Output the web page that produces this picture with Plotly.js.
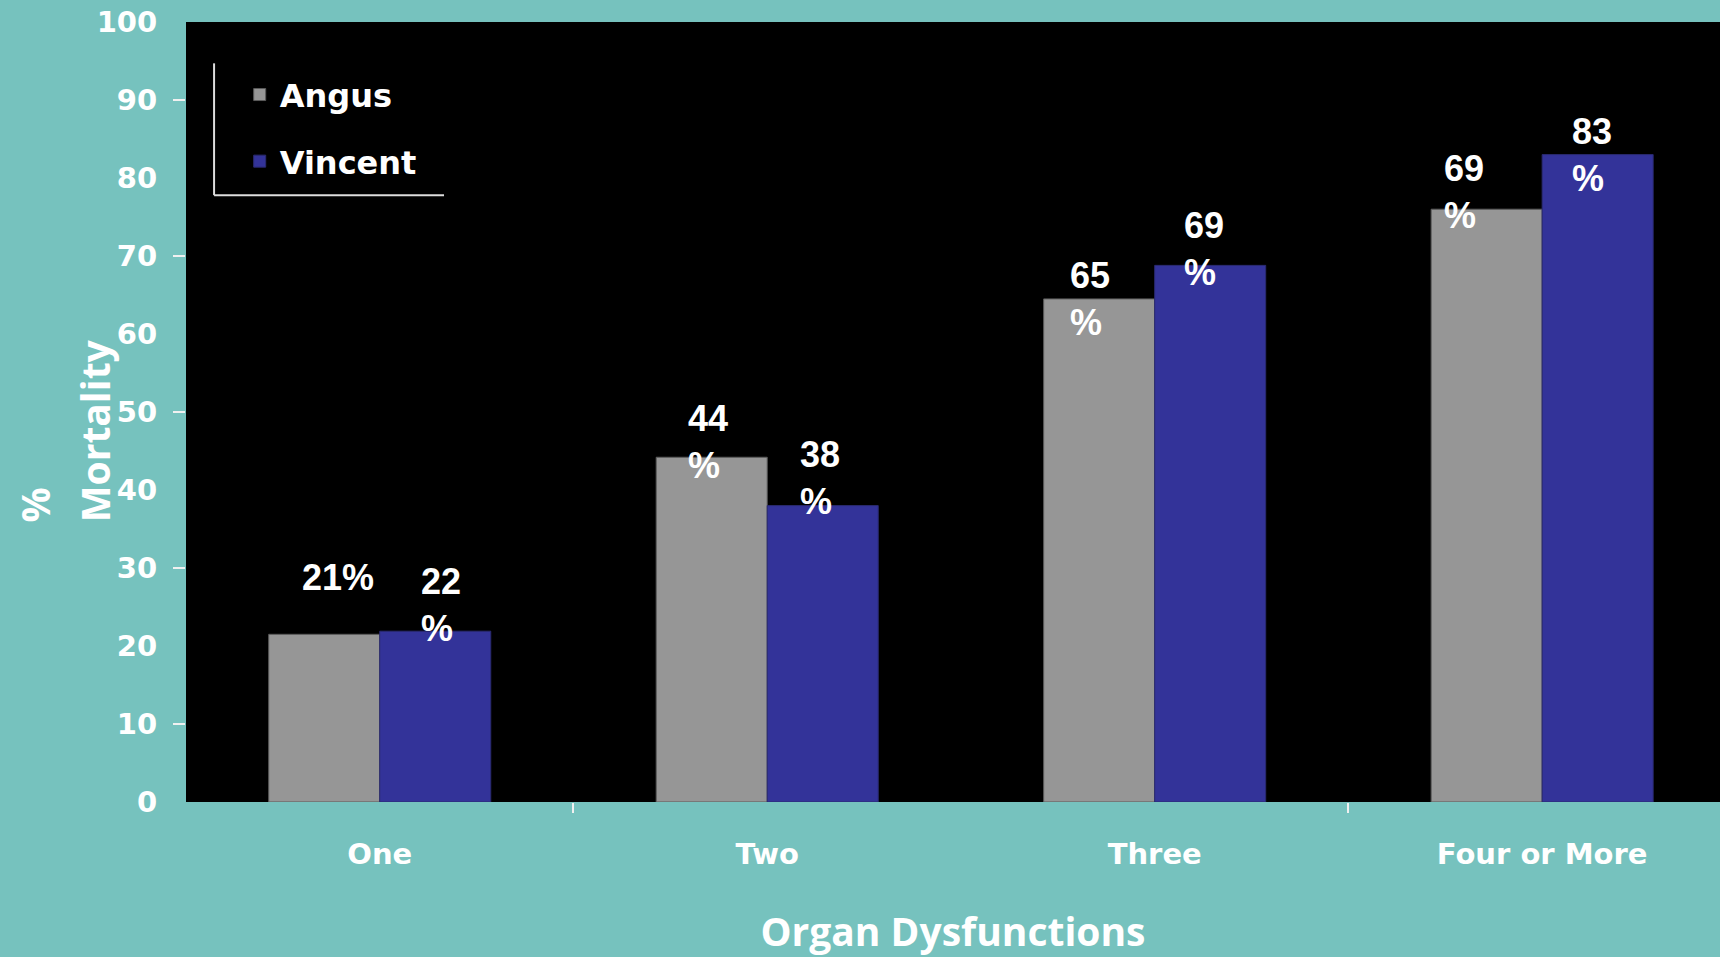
<!DOCTYPE html>
<html>
<head>
<meta charset="utf-8">
<script src="https://cdn.plot.ly/plotly-3.0.1.min.js"></script>
<style>html,body{margin:0;padding:0;background:#76c2be;}</style>
</head>
<body>
<div id="chart" style="width:1720px;height:957px;"></div>
<script>
// ---- data ----
const categories = ["One", "Two", "Three", "Four or More"];
const angusValues = [21.5, 44.2, 64.5, 76.0];
const vincentValues = [21.9, 38.0, 68.8, 83.0];
const angusLabels = ["21%", "44\n%", "65\n%", "69\n%"];
const vincentLabels = ["22\n%", "38\n%", "69\n%", "83\n%"];
const yTickValues = [0, 10, 20, 30, 40, 50, 60, 70, 80, 90, 100];
const yMarkedTicks = [10, 30, 50, 70, 90];
const xMarkedTicks = [0.5, 2.5];

// ---- label placement (px offsets; style only) ----
const angusLabelDX = [-80, -81, -87, -100];
const angusLabelDY = [57, 15, 0, 17];
const vincentLabelDX = [39, 31, 27, 28];
const vincentLabelDY = [26, 28, 16, 0];

const teal = "#76c2be";
const labelFont = {family: "Liberation Sans, Arial, sans-serif", size: 36, color: "white", weight: 700};
const tickFont = {family: "DejaVu Sans, sans-serif", size: 29, color: "white", weight: 700};
const titleFont = {family: "Open Sans, sans-serif", size: 39, color: "white", weight: 700};

const traces = [
  {type: "bar", name: "Angus", x: categories, y: angusValues, legendgroup: "a",
   marker: {color: "#969696", line: {color: "#5a5a5a", width: 1}}, hoverinfo: "skip"},
  {type: "bar", name: "Vincent", x: categories, y: vincentValues, legendgroup: "v",
   marker: {color: "#333399", line: {color: "#2a2a70", width: 1}}, hoverinfo: "skip"},
  {type: "scatter", x: [], y: [], xaxis: "x2", yaxis: "y2", showlegend: false, hoverinfo: "skip"}
];

const annotations = [];
categories.forEach((c, i) => {
  annotations.push({x: c, y: angusValues[i], xref: "x", yref: "y", text: angusLabels[i].replace("\n", "<br>"),
    showarrow: false, xanchor: "left", yanchor: "middle", align: "left",
    xshift: angusLabelDX[i], yshift: angusLabelDY[i], font: labelFont});
  annotations.push({x: c, y: vincentValues[i], xref: "x", yref: "y", text: vincentLabels[i].replace("\n", "<br>"),
    showarrow: false, xanchor: "left", yanchor: "middle", align: "left",
    xshift: vincentLabelDX[i], yshift: vincentLabelDY[i], font: labelFont});
});
annotations.push({xref: "paper", yref: "paper", x: -0.0987, y: 0.356, xanchor: "center", yanchor: "bottom",
  text: "%", textangle: -90, showarrow: false, font: titleFont});
annotations.push({xref: "paper", yref: "paper", x: -0.0597, y: 0.356, xanchor: "center", yanchor: "bottom",
  text: "Mortality", textangle: -90, showarrow: false, font: titleFont});

const xRange = [-0.5, 3.459];

const layout = {
  width: 1720, height: 957,
  paper_bgcolor: teal, plot_bgcolor: "black",
  margin: {l: 186, r: 0, t: 22, b: 155, pad: 0},
  barmode: "group", bargap: 0.427, bargroupgap: 0,
  showlegend: true,
  legend: {x: 0.035, y: 0.942, xanchor: "left", yanchor: "top", bgcolor: "rgba(0,0,0,0)",
    font: {family: "DejaVu Sans, sans-serif", size: 32, color: "white", weight: 700},
    traceorder: "grouped", tracegroupgap: 22},
  xaxis: {type: "category", range: xRange, showgrid: false, zeroline: false, showline: false,
    ticks: "outside", ticklen: 26, tickcolor: "rgba(0,0,0,0)", tickfont: tickFont,
    automargin: false,
    title: {text: "Organ Dysfunctions", font: titleFont, standoff: 49}},
  yaxis: {range: [0, 100], tickvals: yTickValues, showgrid: false, zeroline: false, showline: false,
    ticks: "outside", ticklen: 22, tickcolor: "rgba(0,0,0,0)", tickfont: tickFont, automargin: false},
  xaxis2: {overlaying: "x", anchor: "y", range: xRange, tickvals: xMarkedTicks, showticklabels: false,
    ticks: "outside", ticklen: 10, tickwidth: 2, tickcolor: "#f0f0f0", showgrid: false, zeroline: false, showline: false},
  yaxis2: {overlaying: "y", anchor: "x", side: "left", range: [0, 100], tickvals: yMarkedTicks, showticklabels: false,
    ticks: "outside", ticklen: 12, tickwidth: 2, tickcolor: "#f0f0f0", showgrid: false, zeroline: false, showline: false},
  shapes: [
    {type: "line", xref: "paper", yref: "paper", x0: 0.0183, x1: 0.0183, y0: 0.947, y1: 0.778, line: {color: "#dddddd", width: 2}},
    {type: "line", xref: "paper", yref: "paper", x0: 0.0183, x1: 0.1682, y0: 0.778, y1: 0.778, line: {color: "#dddddd", width: 2}}
  ],
  annotations: annotations
};

Plotly.newPlot("chart", traces, layout, {displayModeBar: false, staticPlot: true});
</script>
</body>
</html>
